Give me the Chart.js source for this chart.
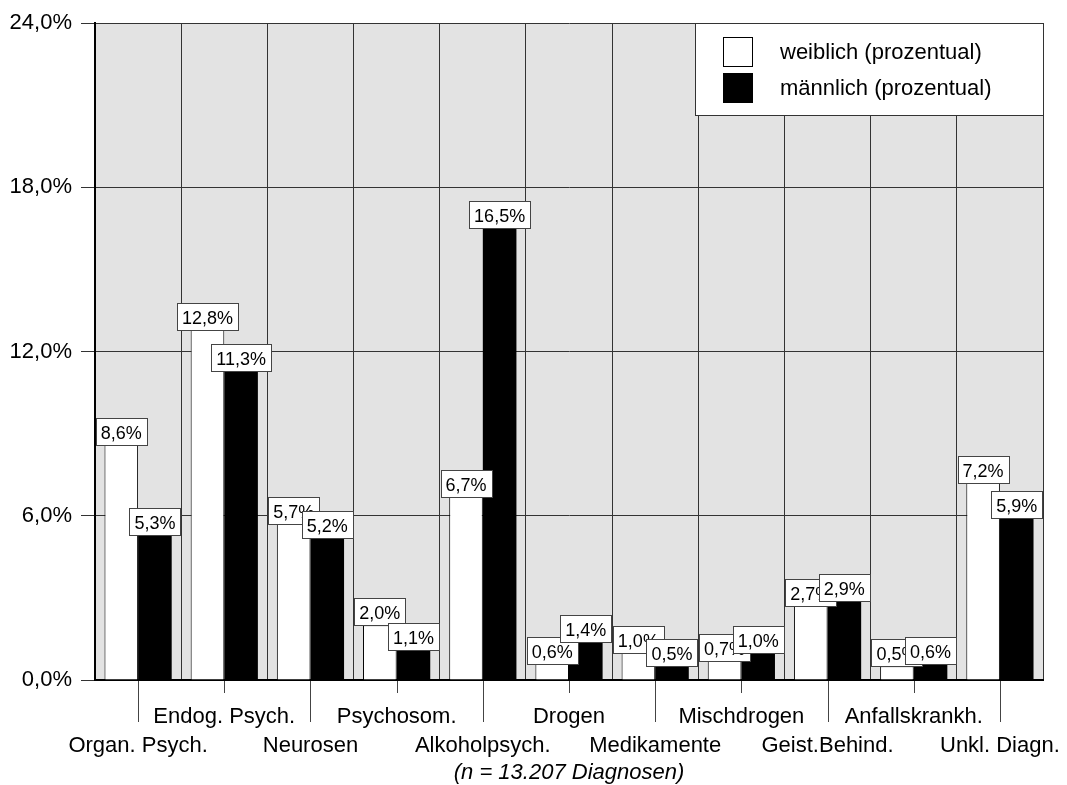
<!DOCTYPE html>
<html>
<head>
<meta charset="utf-8">
<title>Diagnosen nach Geschlecht</title>
<script src="https://cdn.jsdelivr.net/npm/chart.js"></script>
<style>
  html, body { margin: 0; padding: 0; background: #fff; }
  #wrap { width: 1067px; height: 785px; }
</style>
</head>
<body>
<div id="wrap"><canvas id="chart" width="1067" height="785"></canvas></div>
<script>
const categories = ['Organ. Psych.', 'Endog. Psych.', 'Neurosen', 'Psychosom.', 'Alkoholpsych.', 'Drogen',
  'Medikamente', 'Mischdrogen', 'Geist.Behind.', 'Anfallskrankh.', 'Unkl. Diagn.'];
const weiblich = [8.6, 12.8, 5.7, 2.0, 6.7, 0.6, 1.0, 0.7, 2.7, 0.5, 7.2];
const maennlich = [5.3, 11.3, 5.2, 1.1, 16.5, 1.4, 0.5, 1.0, 2.9, 0.6, 5.9];
const yTicks = [0, 6, 12, 18, 24];
const footnote = '(n = 13.207 Diagnosen)';

const FONT = '"Liberation Sans", Arial, sans-serif';
const fmt = v => v.toFixed(1).replace('.', ',') + '%';

// gray plot background
const plotBg = {
  id: 'plotBg',
  beforeDraw(chart) {
    const { ctx, chartArea: a } = chart;
    ctx.save();
    ctx.fillStyle = '#e3e3e3';
    ctx.fillRect(a.left, a.top, a.right - a.left, a.bottom - a.top);
    ctx.restore();
  }
};

// value boxes above each bar
const valueBoxes = {
  id: 'valueBoxes',
  afterDatasetsDraw(chart) {
    const ctx = chart.ctx;
    ctx.save();
    ctx.font = '18px ' + FONT;
    chart.data.datasets.forEach((ds, di) => {
      const meta = chart.getDatasetMeta(di);
      meta.data.forEach((bar, i) => {
        const txt = fmt(ds.data[i]);
        const w = Math.round(ctx.measureText(txt).width) + 10;
        const h = 27;
        const x = Math.round(bar.x - w / 2) + 0.5;
        const y = Math.round(bar.y - h) + 0.5;
        ctx.fillStyle = '#fff';
        ctx.fillRect(x, y, w, h);
        ctx.strokeStyle = '#444';
        ctx.lineWidth = 1;
        ctx.strokeRect(x, y, w, h);
        ctx.fillStyle = '#000';
        ctx.textAlign = 'center';
        ctx.textBaseline = 'alphabetic';
        ctx.fillText(txt, bar.x, bar.y - 6);
      });
    });
    ctx.restore();
  }
};

// staggered category labels, ticks, footnote and legend
const decorations = {
  id: 'decorations',
  afterDraw(chart) {
    const { ctx, chartArea: a } = chart;
    const xs = chart.scales.x;
    ctx.save();
    ctx.strokeStyle = '#444';
    ctx.lineWidth = 1;
    ctx.fillStyle = '#000';
    ctx.font = '22px ' + FONT;
    ctx.textAlign = 'center';
    ctx.textBaseline = 'alphabetic';
    categories.forEach((c, i) => {
      const px = Math.round(xs.getPixelForTick(i)) + 0.5;
      const long = i % 2 === 0;
      ctx.beginPath();
      ctx.moveTo(px, a.bottom + 1);
      ctx.lineTo(px, a.bottom + (long ? 42 : 13));
      ctx.stroke();
      ctx.fillText(c, xs.getPixelForTick(i), long ? a.bottom + 72 : a.bottom + 43);
    });
    ctx.font = 'italic 22px ' + FONT;
    ctx.fillText(footnote, (a.left + a.right) / 2, a.bottom + 99);

    // legend
    const lx = 695.5, ly = a.top + 0.5, lw = a.right - 695, lh = 92;
    ctx.fillStyle = '#fff';
    ctx.fillRect(lx, ly, lw, lh);
    ctx.strokeStyle = '#333';
    ctx.strokeRect(lx, ly, lw, lh);
    ctx.font = '22px ' + FONT;
    ctx.textAlign = 'left';
    ctx.textBaseline = 'middle';
    chart.data.datasets.forEach((ds, di) => {
      const cy = ly + 28 + di * 36;
      ctx.fillStyle = ds.backgroundColor;
      ctx.fillRect(723.5, cy - 14, 29, 29);
      ctx.strokeStyle = '#000';
      ctx.strokeRect(723.5, cy - 14, 29, 29);
      ctx.fillStyle = '#000';
      ctx.fillText(ds.label, 780, cy + 1);
    });
    ctx.restore();
  }
};

new Chart(document.getElementById('chart'), {
  type: 'bar',
  data: {
    labels: categories,
    datasets: [
      { label: 'weiblich (prozentual)', data: weiblich, backgroundColor: '#ffffff', borderColor: '#000', borderWidth: 1 },
      { label: 'männlich (prozentual)', data: maennlich, backgroundColor: '#000000', borderColor: '#000', borderWidth: 0 }
    ]
  },
  options: {
    responsive: false,
    devicePixelRatio: 1,
    animation: false,
    categoryPercentage: 0.78,
    barPercentage: 1.0,
    layout: { padding: { top: 23, right: 24, left: 0, bottom: 0 } },
    plugins: { legend: { display: false }, tooltip: { enabled: false } },
    scales: {
      x: {
        ticks: { display: false },
        grid: { offset: true, color: '#333', lineWidth: 1, drawTicks: false },
        border: { color: '#000', width: 2 },
        afterFit(scale) { scale.height = 105; }
      },
      y: {
        min: 0,
        max: 24,
        afterBuildTicks(scale) { scale.ticks = yTicks.map(v => ({ value: v })); },
        ticks: {
          callback: v => fmt(v),
          color: '#000',
          font: { family: FONT, size: 22 },
          padding: 9
        },
        grid: { color: '#333', lineWidth: 1, tickLength: 14, tickColor: '#333' },
        border: { color: '#000', width: 2 },
        afterFit(scale) { scale.width = 95; }
      }
    }
  },
  plugins: [plotBg, valueBoxes, decorations]
});
</script>
</body>
</html>
